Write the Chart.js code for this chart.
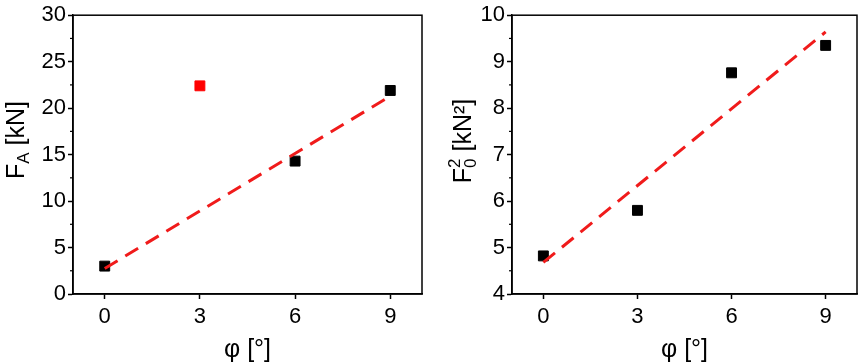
<!DOCTYPE html>
<html>
<head>
<meta charset="utf-8">
<script src="https://cdn.jsdelivr.net/npm/chart.js@4/dist/chart.umd.min.js"></script>
<style>
  body { margin: 0; background: #fff; }
  .panel { position: absolute; top: 0; height: 364px; }
</style>
</head>
<body>
<div class="panel" style="left:0;width:430px"><canvas id="left" width="430" height="364"></canvas></div>
<div class="panel" style="left:430px;width:435px"><canvas id="right" width="435" height="364"></canvas></div>
<script>
const xTicks = [0, 3, 6, 9];
const angles = [0, 3, 6, 9];
const forceA = [3.0, 22.4, 14.3, 21.9];
const forceAColors = ['#000', '#ff0000', '#000', '#000'];
const forceSq = [4.82, 5.8, 8.76, 9.35];
const fitX = [0, 9];
const fitForceA = [2.75, 21.3];
const fitForceSq = [4.68, 9.64];

const FONT = '"Liberation Sans", Arial, sans-serif';

const frame = {
  id: 'frame',
  afterDraw(chart, args, opts) {
    const { ctx, chartArea: a, scales } = chart;
    ctx.save();
    ctx.strokeStyle = '#000';
    ctx.lineWidth = 1.5;
    ctx.strokeRect(a.left, a.top, a.right - a.left, a.bottom - a.top);
    // minor ticks on y
    const t = scales.y.ticks;
    ctx.lineWidth = 1.2;
    for (let i = 0; i < t.length - 1; i++) {
      const py = scales.y.getPixelForValue((t[i].value + t[i + 1].value) / 2);
      ctx.beginPath();
      ctx.moveTo(a.left - 3, py);
      ctx.lineTo(a.left, py);
      ctx.stroke();
    }
    ctx.fillStyle = '#000';
    // x title
    ctx.font = '25px ' + FONT;
    ctx.textAlign = 'center';
    ctx.textBaseline = 'alphabetic';
    ctx.fillText('φ [°]', (a.left + a.right) / 2, 357);
    // y title with sub/superscripts
    ctx.translate(opts.tx, opts.ty);
    ctx.rotate(-Math.PI / 2);
    ctx.textAlign = 'left';
    let w = 0;
    for (const p of opts.parts) {
      ctx.font = p.size + 'px ' + FONT;
      p.w = p.stack ? 0 : ctx.measureText(p.text).width;
      w += p.w;
    }
    let x = -w / 2;
    for (const p of opts.parts) {
      ctx.font = p.size + 'px ' + FONT;
      ctx.fillText(p.text, x, 9 + p.dy);
      x += p.w;
    }
    ctx.restore();
  }
};

function makeChart(id, yData, colors, fitY, yMin, yMax, yStep, yWidth, padRight, title) {
  new Chart(document.getElementById(id), {
    type: 'scatter',
    data: {
      datasets: [
        {
          data: fitX.map((x, i) => ({ x: x, y: fitY[i] })),
          showLine: true,
          borderColor: '#f01b1b',
          borderWidth: 3,
          borderDash: [15, 9],
          pointRadius: 0,
          order: 0
        },
        {
          data: angles.map((x, i) => ({ x: x, y: yData[i] })),
          pointStyle: 'rect',
          pointRadius: 7,
          pointBorderWidth: 1,
          backgroundColor: colors,
          borderColor: colors,
          order: 1
        }
      ]
    },
    options: {
      responsive: false,
      animation: false,
      layout: { padding: { left: 0, right: padRight, top: 13, bottom: 0 } },
      plugins: { legend: { display: false }, tooltip: { enabled: false }, frame: title },
      scales: {
        x: {
          min: -1, max: 10,
          afterBuildTicks: s => { s.ticks = xTicks.map(v => ({ value: v })); },
          afterFit: s => { s.height = 70; },
          grid: { drawOnChartArea: false, tickLength: 5, tickColor: '#000', tickWidth: 1.5 },
          border: { color: '#000', width: 1.5 },
          ticks: { color: '#000', font: { family: FONT, size: 22 }, padding: 5, maxRotation: 0 }
        },
        y: {
          min: yMin, max: yMax,
          ticks: { stepSize: yStep, color: '#000', font: { family: FONT, size: 22 }, padding: 2 },
          afterFit: s => { s.width = yWidth; },
          grid: { drawOnChartArea: false, tickLength: 5, tickColor: '#000', tickWidth: 1.5 },
          border: { color: '#000', width: 1.5 }
        }
      }
    },
    plugins: [frame]
  });
}

makeChart('left', forceA, forceAColors, fitForceA, 0, 30, 5, 73, 6, {
  tx: 15, ty: 140,
  parts: [
    { text: 'F', size: 25, dy: 0 },
    { text: 'A', size: 17, dy: 5 },
    { text: ' [kN]', size: 25, dy: 0 }
  ]
});
makeChart('right', forceSq, '#000', fitForceSq, 4, 10, 1, 82, 7, {
  tx: 32, ty: 141,
  parts: [
    { text: 'F', size: 25, dy: 0 },
    { text: '2', size: 17, dy: -11, stack: true },
    { text: '0', size: 17, dy: 5 },
    { text: ' [kN²]', size: 25, dy: 0 }
  ]
});
</script>
</body>
</html>
